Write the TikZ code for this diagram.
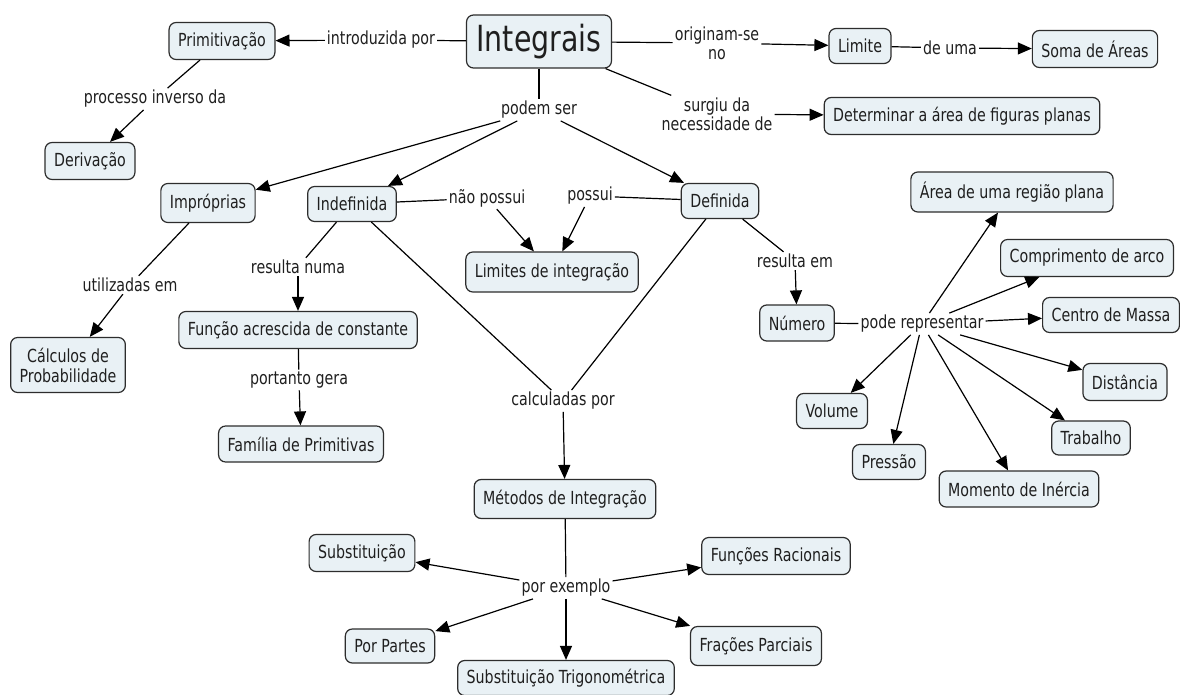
\documentclass[tikz,border=0pt]{standalone}
\usepackage{fontspec}
\setmainfont{DejaVu Sans}[FakeStretch=0.79]
\usetikzlibrary{arrows.meta}
\definecolor{boxfill}{RGB}{233,241,245}
\definecolor{boxline}{RGB}{45,45,45}
\begin{document}
\begin{tikzpicture}[x=1pt,y=-1pt,
  box/.style={draw=boxline, line width=1.2pt, fill=boxfill, rounded corners=7pt, inner xsep=9pt, inner ysep=3pt, minimum height=37pt, font=\fontsize{18}{20}\selectfont, text=black!88, align=center},
  lbl/.style={inner sep=2pt, font=\fontsize{18}{19}\selectfont, text=black!88, align=center},
  arr/.style={-{Triangle[length=14pt,width=12pt]}, line width=1.2pt},
  ln/.style={line width=1.2pt}]
\fill[white] (0,0) rectangle (1180,695);
\useasboundingbox (0,0) rectangle (1180,695);

% concept boxes
\node[box, font=\fontsize{36}{38}\selectfont, minimum height=53pt, inner xsep=10pt] (int) at (539,41.5) {Integrais};
\node[box] (prim) at (222,41) {Primitivação};
\node[box] (deriv) at (90,161) {Derivação};
\node[box, minimum height=35pt] (lim) at (860,46) {Limite};
\node[box] (soma) at (1095,49) {Soma de Áreas};
\node[box] (det) at (962,116) {Determinar a área de figuras planas};
\node[box, minimum height=40pt] (area) at (1012,192) {Área de uma região plana};
\node[box, minimum height=39pt] (impr) at (208,203) {Impróprias};
\node[box, minimum height=35pt] (indef) at (352,204) {Indefinida};
\node[box, minimum height=35pt] (defi) at (720,201) {Definida};
\node[box, minimum height=40pt] (limint) at (552,272) {Limites de integração};
\node[box] (func) at (298,330) {Função acrescida de constante};
\node[box, minimum height=36pt] (fam) at (301,444) {Família de Primitivas};
\node[box, minimum height=55pt] (calc) at (68,365) {Cálculos de\\Probabilidade};
\node[box, minimum height=36pt] (num) at (797,323) {Número};
\node[box] (comp) at (1087,258) {Comprimento de arco};
\node[box, minimum height=35pt] (centro) at (1111,315) {Centro de Massa};
\node[box] (dist) at (1125,382) {Distância};
\node[box, minimum height=35pt] (vol) at (832,411) {Volume};
\node[box, minimum height=34pt] (trab) at (1091,438) {Trabalho};
\node[box, minimum height=35pt] (press) at (889,462) {Pressão};
\node[box, minimum height=36pt] (mom) at (1019,489) {Momento de Inércia};
\node[box, minimum height=39pt] (met) at (565,499) {Métodos de Integração};
\node[box] (subs) at (362,553) {Substituição};
\node[box] (funr) at (776,556) {Funções Racionais};
\node[box, minimum height=34pt] (porp) at (390,646) {Por Partes};
\node[box, minimum height=39pt] (frac) at (756,646) {Frações Parciais};
\node[box, minimum height=35pt] (trig) at (566,678) {Substituição Trigonométrica};

% linking phrases
\node[lbl] (lintro) at (381,40) {introduzida por};
\node[lbl] (lorig) at (717,43) {originam-se\\no};
\node[lbl] (lsurg) at (717,114) {surgiu da\\necessidade de};
\node[lbl] (ldeuma) at (950,48) {de uma};
\node[lbl] (lproc) at (155,99) {processo inverso da};
\node[lbl] (lpodem) at (539,110) {podem ser};
\node[lbl] (lutil) at (130,285) {utilizadas em};
\node[lbl] (lresn) at (298,267) {resulta numa};
\node[lbl] (lport) at (299,380) {portanto gera};
\node[lbl] (lnao) at (487,198) {não possui};
\node[lbl] (lposs) at (590,196) {possui};
\node[lbl] (lcalc) at (563,401) {calculadas por};
\node[lbl] (lrese) at (795,261) {resulta em};
\node[lbl] (lpode) at (922,324) {pode representar};
\node[lbl] (lporex) at (566,588) {por exemplo};

% connectors
\draw[ln] (int) -- (lintro); \draw[arr] (lintro) -- (prim);
\draw[ln] (int) -- (lorig); \draw[arr] (lorig) -- (lim);
\draw[ln] (lim) -- (ldeuma); \draw[arr] (ldeuma) -- (soma);
\draw[ln] (int) -- (lsurg); \draw[arr] (lsurg) -- (det);
\draw[ln] (prim) -- (lproc); \draw[arr] (lproc) -- (deriv);
\draw[ln] (int) -- (lpodem);
\draw[arr] (lpodem) -- (impr);
\draw[arr] (lpodem) -- (indef);
\draw[arr] (lpodem) -- (defi);
\draw[ln] (impr) -- (lutil); \draw[arr] (lutil) -- (calc);
\draw[ln] (indef) -- (lresn); \draw[arr] (lresn) -- (func);
\draw[ln] (func) -- (lport); \draw[arr] (lport) -- (fam);
\draw[ln] (indef) -- (lnao); \draw[arr] (lnao) -- (limint);
\draw[ln] (defi) -- (lposs); \draw[arr] (lposs) -- (limint);
\draw[ln] (indef) -- (lcalc); \draw[ln] (defi) -- (lcalc); \draw[arr] (lcalc) -- (met);
\draw[ln] (defi) -- (lrese); \draw[arr] (lrese) -- (num);
\draw[ln] (num) -- (lpode);
\foreach \t in {area,comp,centro,dist,trab,mom,press,vol} \draw[arr] (lpode) -- (\t);
\draw[ln] (met) -- (lporex);
\foreach \t in {subs,funr,porp,frac,trig} \draw[arr] (lporex) -- (\t);
\end{tikzpicture}
\end{document}
